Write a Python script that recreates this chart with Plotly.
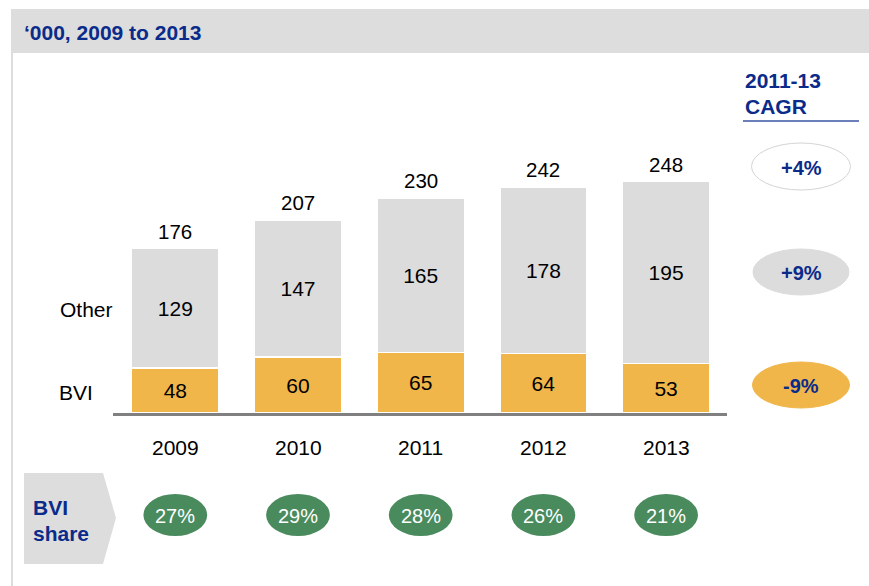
import plotly.graph_objects as go

years = ["2009", "2010", "2011", "2012", "2013"]
bvi = [48, 60, 65, 64, 53]
other = [129, 147, 165, 178, 195]
totals = [176, 207, 230, 242, 248]
bvi_share = ["27%", "29%", "28%", "26%", "21%"]
cagr_labels = ["+4%", "+9%", "-9%"]
header_text = "\u2018000, 2009 to 2013"

W, H = 869, 586
NAVY = "#0A2B8A"
GRAY = "#DDDDDD"
ORANGE = "#F0B64A"
GREEN = "#4A8B5E"
FONT = "Liberation Sans, Arial, sans-serif"

def px(x):
    return x / W

def py(y):
    return 1 - y / H

def ann(x, y, text, size=20, color="black", xanchor="center", yanchor="middle", xref="paper", yref="paper", **kw):
    d = dict(x=x, y=y, xref=xref, yref=yref, text=text, showarrow=False, xanchor=xanchor, yanchor=yanchor,
             font=dict(size=size, color=color, family=FONT))
    d.update(kw)
    return d

fig = go.Figure()
fig.add_trace(go.Bar(
    x=years, y=bvi, name="BVI", marker=dict(color=ORANGE, line=dict(color="white", width=1.5)),
    text=[str(v) for v in bvi], textposition="inside", insidetextanchor="middle",
    textfont=dict(size=21, color="black", family=FONT), width=0.71, hoverinfo="skip"))
fig.add_trace(go.Bar(
    x=years, y=other, name="Other", marker=dict(color="#DCDCDC", line=dict(color="white", width=1.5)),
    text=[str(v) for v in other], textposition="inside", insidetextanchor="middle",
    textfont=dict(size=21, color="black", family=FONT), width=0.71, hoverinfo="skip"))

annotations = []
for i, t in enumerate(totals):
    annotations.append(ann(i, t, str(t), size=20.5, xref="x", yref="y", yanchor="bottom", yshift=4))
for i, yr in enumerate(years):
    annotations.append(ann(i, py(447.5), yr, size=21, xref="x"))

shapes = []
# header band
shapes.append(dict(type="rect", xref="paper", yref="paper", x0=px(11), x1=1.0, y0=py(53), y1=py(9),
                   fillcolor=GRAY, line=dict(width=0), layer="below"))
# left border
shapes.append(dict(type="line", xref="paper", yref="paper", x0=px(12), x1=px(12), y0=py(53), y1=0,
                   line=dict(color=GRAY, width=2)))
# baseline
shapes.append(dict(type="line", xref="paper", yref="paper", x0=px(113), x1=px(727), y0=py(414.5), y1=py(414.5),
                   line=dict(color="#808080", width=3)))
# CAGR underline
shapes.append(dict(type="line", xref="paper", yref="paper", x0=px(743), x1=px(859), y0=py(121), y1=py(121),
                   line=dict(color="#3A55A5", width=1.5)))
# CAGR ellipses
cagr_specs = [(166.5, 99, 47, "white", "#D5D5D5"), (272, 96, 46, "#DCDCDC", "#DCDCDC"), (385, 97, 46, ORANGE, ORANGE)]
for (cy, w, h, fill, lc), lab in zip(cagr_specs, cagr_labels):
    shapes.append(dict(type="circle", xref="paper", yref="paper", x0=px(801 - w / 2), x1=px(801 + w / 2),
                       y0=py(cy + h / 2), y1=py(cy - h / 2), fillcolor=fill, line=dict(color=lc, width=1)))
    annotations.append(ann(px(801), py(cy + 1), "<b>%s</b>" % lab, color=NAVY))
# chevron
path = "M %f,%f L %f,%f L %f,%f L %f,%f L %f,%f Z" % (
    px(24), py(473), px(103), py(473), px(116), py(518), px(103), py(564), px(24), py(564))
shapes.append(dict(type="path", xref="paper", yref="paper", path=path, fillcolor=GRAY, line=dict(width=0)))
# green share ellipses
for i, s in enumerate(bvi_share):
    shapes.append(dict(type="circle", xref="x", yref="paper", x0=i - 0.26, x1=i + 0.26,
                       y0=py(536), y1=py(494), fillcolor=GREEN, line=dict(width=0)))
    annotations.append(ann(i, py(516), s, color="white", xref="x"))

annotations += [
    ann(px(22), py(32), "<b>%s</b>" % header_text, size=21, color=NAVY, xanchor="left"),
    ann(px(743), py(81), "<b>2011-13</b>", size=21, color=NAVY, xanchor="left"),
    ann(px(743), py(106), "<b>CAGR</b>", size=21, color=NAVY, xanchor="left"),
    ann(px(86), py(309), "Other", size=21),
    ann(px(76), py(392), "BVI", size=21),
    ann(px(31), py(507), "<b>BVI</b>", size=21, color=NAVY, xanchor="left"),
    ann(px(31), py(533), "<b>share</b>", size=21, color=NAVY, xanchor="left"),
]

spacing = 122.7
c0 = 175.3
ppu = 0.933
fig.update_layout(
    width=W, height=H, margin=dict(l=0, r=0, t=0, b=0), barmode="stack",
    paper_bgcolor="white", plot_bgcolor="white", showlegend=False,
    font=dict(family=FONT),
    xaxis=dict(type="category", range=[-c0 / spacing, (W - c0) / spacing], visible=False, fixedrange=True),
    yaxis=dict(range=[-(H - 413) / ppu, 413 / ppu], visible=False, fixedrange=True),
    shapes=shapes, annotations=annotations,
)
fig.write_html("out.html")
